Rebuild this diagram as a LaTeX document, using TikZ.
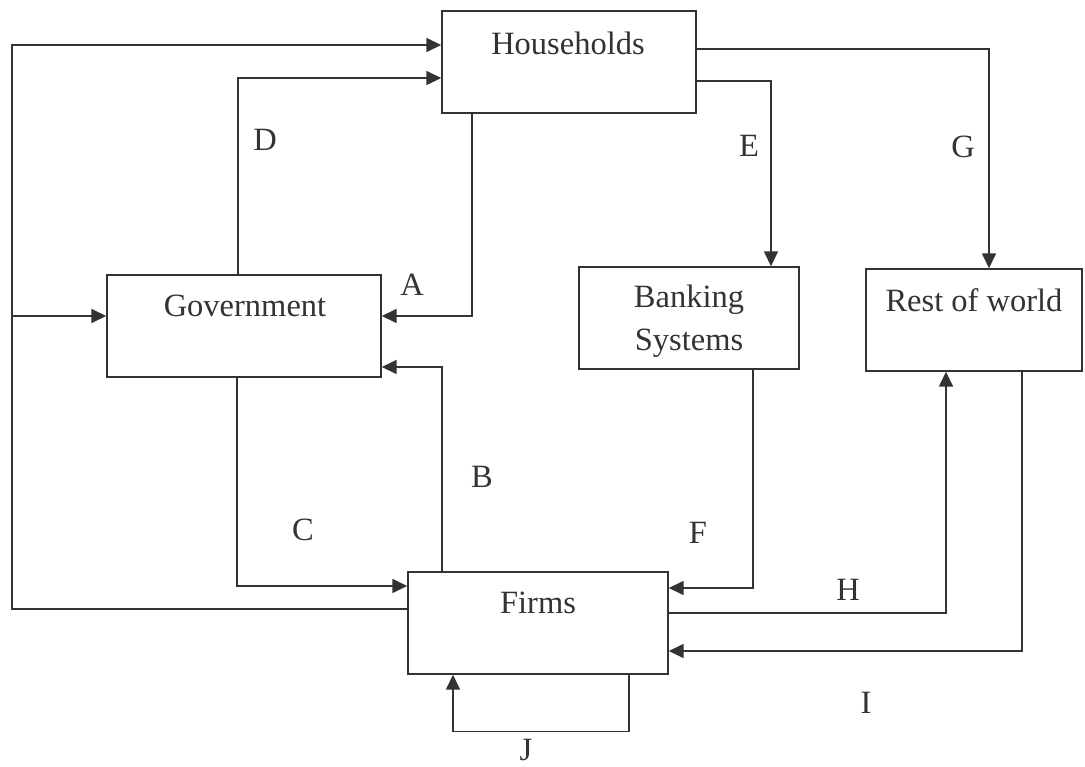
\documentclass[tikz,border=0pt]{standalone}
\usepackage{fontspec}
\setmainfont{Liberation Serif}
\usepackage{tikz}
\usetikzlibrary{arrows.meta,positioning,calc}

\begin{document}
\begin{tikzpicture}[
    x=1pt, y=-1pt,
    sector/.style={rectangle, draw=black!80, line width=1.4pt, inner sep=0pt},
    sectorname/.style={font=\fontsize{32.5}{43}\selectfont, text=black!80, align=center, inner sep=0pt},
    flowlabel/.style={font=\fontsize{32.5}{39}\selectfont, text=black!80, inner sep=0pt},
    flow/.style={draw=black!80, line width=1.5pt, -{Triangle[length=15pt,width=14pt]}},
]
\useasboundingbox (0,0) rectangle (1085,767);

% Sectors
\node[sector, minimum width=254pt, minimum height=102pt] (hh) at (569,62) {};
\node[sector, minimum width=274pt, minimum height=102pt] (gov) at (244,326) {};
\node[sector, minimum width=220pt, minimum height=102pt] (bank) at (689,318) {};
\node[sector, minimum width=216pt, minimum height=102pt] (row) at (974,320) {};
\node[sector, minimum width=260pt, minimum height=102pt] (firm) at (538,623) {};

% Sector names
\node[sectorname] (hhtxt) at (568,43) {Households};
\node[sectorname] (govtxt) at (245,306) {Government};
\node[sectorname] (banktxt) at (689,321) {Banking\\Systems};
\node[sectorname] (rowtxt) at (974,300) {Rest of world};
\node[sectorname] (firmtxt) at (538,603) {Firms};

% Outer loop on the left
\coordinate (lbot) at (12,609);
\coordinate (ltop) at (12,45);
\coordinate (lgov) at (12,316);
\draw[flow] (firm.west |- lbot) -| (ltop) -- (hh.west |- ltop);
\draw[flow] (lgov) -- (gov.west |- lgov);

% Flows between households and government
\draw[flow] ([xshift=-6pt]gov.north) |- ([yshift=-16pt]hh.west);
\draw[flow] ([xshift=-97pt]hh.south) |- ([yshift=10pt]gov.east);

% Flows between government and firms
\draw[flow] ([xshift=-96pt]firm.north) |- ([yshift=-41pt]gov.east);
\draw[flow] ([xshift=-7pt]gov.south) |- ([yshift=37pt]firm.west);

% Households to banks and rest of world
\draw[flow] ([yshift=-19pt]hh.east) -| ([xshift=82pt]bank.north);
\draw[flow] ([yshift=13pt]hh.east) -| ([xshift=15pt]row.north);

% Banks, rest of world and firms
\draw[flow] ([xshift=64pt]bank.south) |- ([yshift=35pt]firm.east);
\draw[flow] ([yshift=10pt]firm.east) -| ([xshift=-28pt]row.south);
\draw[flow] ([xshift=48pt]row.south) |- ([yshift=-28pt]firm.east);

% Firms to firms
\draw[flow] ([xshift=91pt]firm.south) -- ++(0,57) -| ([xshift=-85pt]firm.south);

% Flow labels
\node[flowlabel] (la) at (412,285) {A};
\node[flowlabel] (lb) at (482,477) {B};
\node[flowlabel] (lc) at (303,530) {C};
\node[flowlabel] (ld) at (265,140) {D};
\node[flowlabel] (le) at (749,146) {E};
\node[flowlabel] (lf) at (698,533) {F};
\node[flowlabel] (lg) at (963,147) {G};
\node[flowlabel] (lh) at (848,590) {H};
\node[flowlabel] (li) at (866,703) {I};
\node[flowlabel] (lj) at (526,750) {J};

\end{tikzpicture}
\end{document}
